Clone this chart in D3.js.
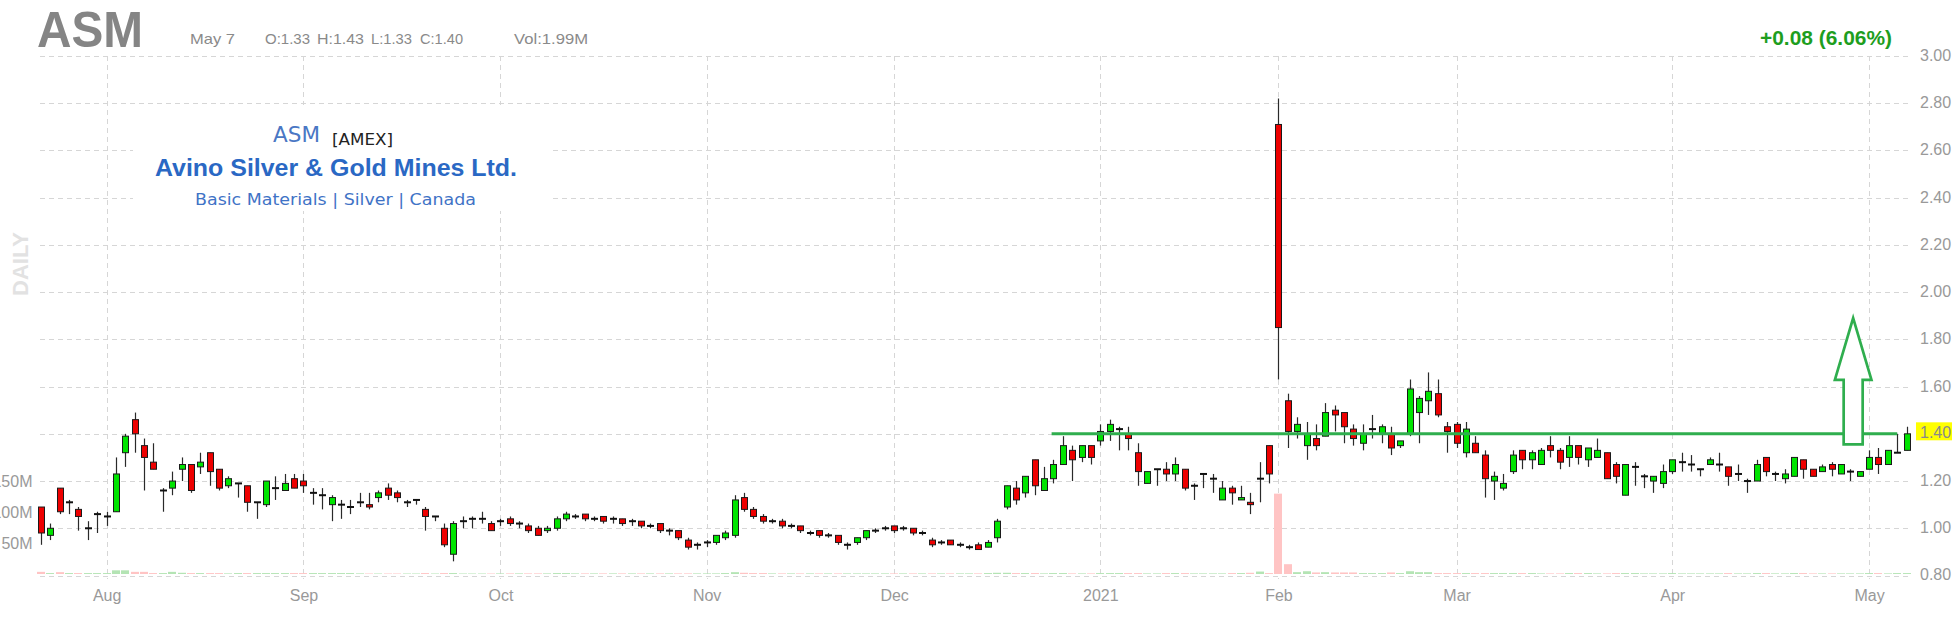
<!DOCTYPE html>
<html><head><meta charset="utf-8">
<script src="https://cdn.jsdelivr.net/npm/d3@7"></script>
<style>body{margin:0;background:#fff;overflow:hidden} svg{display:block}</style>
</head><body>
<svg id="c" width="1952" height="621"></svg>
<script>
// ---- DATA ----
const opens = [
1.09,0.97,1.17,1.11,1.08,1.00,1.06,1.05,1.07,1.32,
1.46,1.35,1.28,1.16,1.17,1.25,1.27,1.26,1.32,1.25,
1.18,1.19,1.18,1.11,1.10,1.17,1.16,1.21,1.20,1.15,
1.14,1.10,1.10,1.09,1.11,1.10,1.13,1.17,1.15,1.11,
1.12,1.08,1.05,1.00,0.89,1.03,1.04,1.04,1.02,1.03,
1.04,1.02,1.01,1.00,0.99,1.00,1.04,1.05,1.06,1.04,
1.05,1.04,1.04,1.03,1.03,1.01,1.02,0.99,0.99,0.95,
0.93,0.94,0.94,0.96,0.97,1.13,1.08,1.05,1.03,1.03,
1.01,1.01,0.98,0.99,0.97,0.97,0.93,0.94,0.96,0.99,
1.00,1.01,1.00,1.00,0.98,0.95,0.94,0.95,0.93,0.92,
0.93,0.92,0.96,1.09,1.17,1.15,1.29,1.16,1.21,1.27,
1.33,1.30,1.35,1.37,1.41,1.42,1.40,1.32,1.19,1.25,
1.25,1.23,1.25,1.18,1.23,1.21,1.12,1.17,1.12,1.11,
1.21,1.35,2.71,1.54,1.41,1.35,1.38,1.39,1.50,1.49,
1.42,1.36,1.42,1.40,1.40,1.35,1.40,1.49,1.54,1.57,
1.43,1.44,1.32,1.36,1.31,1.20,1.17,1.24,1.33,1.29,
1.27,1.35,1.33,1.30,1.35,1.29,1.30,1.32,1.27,1.14,
1.26,1.22,1.20,1.19,1.24,1.28,1.27,1.25,1.27,1.27,
1.26,1.23,1.20,1.20,1.30,1.23,1.21,1.22,1.29,1.25,
1.24,1.27,1.23,1.24,1.22,1.25,1.30,1.27,1.32,1.33];
const highs = [
1.09,1.02,1.17,1.12,1.09,1.03,1.07,1.07,1.30,1.40,
1.49,1.38,1.36,1.17,1.24,1.30,1.27,1.32,1.32,1.25,
1.22,1.19,1.18,1.11,1.20,1.22,1.23,1.23,1.23,1.17,
1.17,1.14,1.12,1.12,1.15,1.15,1.16,1.19,1.16,1.12,
1.12,1.09,1.05,1.02,1.03,1.05,1.05,1.07,1.03,1.04,
1.05,1.03,1.02,1.01,1.01,1.05,1.07,1.06,1.06,1.05,
1.05,1.05,1.04,1.04,1.03,1.02,1.02,1.00,0.99,0.96,
0.94,0.95,0.97,0.99,1.14,1.15,1.09,1.06,1.04,1.04,
1.02,1.01,0.99,0.99,0.98,0.97,0.94,0.96,0.99,1.00,
1.01,1.01,1.01,1.00,0.99,0.96,0.95,0.95,0.94,0.93,
0.94,0.95,1.04,1.18,1.20,1.22,1.29,1.26,1.29,1.39,
1.35,1.35,1.35,1.44,1.46,1.43,1.43,1.36,1.24,1.25,
1.28,1.30,1.25,1.19,1.23,1.23,1.20,1.18,1.18,1.15,
1.28,1.35,2.82,1.57,1.47,1.45,1.44,1.53,1.52,1.49,
1.44,1.44,1.48,1.44,1.43,1.37,1.63,1.56,1.66,1.63,
1.45,1.45,1.45,1.39,1.33,1.24,1.23,1.33,1.33,1.33,
1.34,1.39,1.34,1.39,1.35,1.34,1.38,1.32,1.28,1.27,
1.28,1.23,1.22,1.27,1.29,1.32,1.31,1.25,1.30,1.32,
1.26,1.27,1.21,1.29,1.30,1.24,1.25,1.30,1.29,1.25,
1.27,1.28,1.27,1.25,1.24,1.33,1.34,1.33,1.40,1.43];
const lows = [
0.93,0.95,1.06,1.06,0.99,0.95,0.98,1.01,1.07,1.26,
1.32,1.16,1.25,1.07,1.14,1.20,1.15,1.23,1.18,1.16,
1.17,1.13,1.07,1.04,1.09,1.12,1.16,1.17,1.15,1.10,
1.08,1.03,1.04,1.06,1.09,1.08,1.11,1.12,1.11,1.09,
1.10,0.99,1.03,0.92,0.86,1.00,1.00,1.02,0.99,1.01,
1.01,1.00,0.98,0.97,0.98,0.99,1.03,1.04,1.03,1.03,
1.02,1.02,1.01,1.01,1.00,1.00,0.98,0.97,0.95,0.91,
0.91,0.92,0.93,0.95,0.96,1.07,1.04,1.02,1.02,1.00,
1.00,0.98,0.97,0.96,0.96,0.93,0.91,0.93,0.95,0.98,
0.99,0.98,0.99,0.97,0.97,0.92,0.93,0.93,0.92,0.91,
0.91,0.92,0.94,1.08,1.10,1.13,1.14,1.16,1.19,1.27,
1.20,1.28,1.27,1.35,1.37,1.33,1.33,1.18,1.19,1.18,
1.20,1.20,1.16,1.12,1.17,1.15,1.12,1.10,1.12,1.06,
1.11,1.19,1.63,1.34,1.38,1.29,1.33,1.39,1.41,1.36,
1.35,1.33,1.38,1.36,1.31,1.34,1.39,1.36,1.48,1.47,
1.32,1.34,1.30,1.32,1.13,1.12,1.16,1.23,1.25,1.25,
1.27,1.30,1.25,1.26,1.27,1.26,1.30,1.21,1.19,1.14,
1.18,1.17,1.15,1.17,1.23,1.24,1.24,1.22,1.27,1.24,
1.18,1.20,1.15,1.20,1.22,1.20,1.19,1.22,1.21,1.22,
1.24,1.22,1.23,1.20,1.22,1.25,1.23,1.27,1.32,1.33];
const closes = [
0.98,1.00,1.07,1.11,1.05,1.00,1.06,1.05,1.23,1.39,
1.40,1.30,1.25,1.16,1.20,1.27,1.16,1.28,1.24,1.17,
1.21,1.19,1.11,1.11,1.20,1.17,1.19,1.17,1.18,1.15,
1.14,1.13,1.10,1.09,1.11,1.09,1.15,1.14,1.13,1.11,
1.12,1.05,1.05,0.93,1.02,1.03,1.04,1.04,0.99,1.03,
1.02,1.02,0.99,0.97,1.00,1.04,1.06,1.05,1.04,1.04,
1.03,1.04,1.02,1.03,1.01,1.01,0.99,0.99,0.96,0.92,
0.93,0.94,0.97,0.98,1.12,1.08,1.05,1.03,1.03,1.01,
1.01,0.99,0.98,0.97,0.97,0.94,0.93,0.96,0.99,0.99,
1.00,0.99,1.00,0.98,0.98,0.93,0.94,0.93,0.93,0.92,
0.91,0.94,1.03,1.18,1.12,1.22,1.18,1.21,1.27,1.35,
1.29,1.35,1.30,1.41,1.44,1.42,1.38,1.24,1.24,1.25,
1.23,1.27,1.17,1.18,1.23,1.21,1.17,1.15,1.13,1.10,
1.21,1.23,1.85,1.41,1.44,1.40,1.35,1.49,1.48,1.43,
1.38,1.40,1.42,1.43,1.34,1.37,1.59,1.55,1.58,1.48,
1.41,1.36,1.42,1.32,1.21,1.22,1.19,1.31,1.29,1.32,
1.33,1.33,1.28,1.35,1.30,1.34,1.33,1.21,1.22,1.27,
1.26,1.22,1.22,1.24,1.29,1.28,1.27,1.25,1.29,1.27,
1.22,1.23,1.20,1.27,1.24,1.23,1.23,1.30,1.25,1.22,
1.26,1.25,1.27,1.24,1.24,1.30,1.27,1.33,1.32,1.40];
// volume in millions of shares
const volumes = [
3.5,1.5,3,1.5,1.5,1.5,1.5,
1.5,6,6,3.5,3.5,1.5,1.5,3.5,2,1.5,1.5,1.5,1.5,1,1.5,1.5,1.5,1.5,1.5,1.5,1.5,
1.5,1.5,1.5,1.5,1.5,1.5,1,0.8,0.8,0.8,0.8,0.8,0.8,1.5,0.8,1.5,1.5,0.8,0.8,0.8,0.8,
1,1,1,1,1,1,1.5,1.5,1,1,1,1,1,1,1,1,1,1,1,1,1,1,
1,1,1.5,3,2,1.5,1.5,1,1,1,1,1,1,1,1,1,1,1,1,1,
1,1,1,1,1,1,1,1,1,1,1.5,2,2,1.5,1.5,1.5,1,1.5,1.5,1,1,1,
1.5,1.5,1.5,1.5,1.5,1,1,1.5,1.5,1.5,1,1,1,1,1.5,1.5,2,4,1.5,
131,16,3,4.5,2.5,3,2.5,2.5,2.5,1.5,1.5,1.5,2.5,1.5,4.5,3,3,1.5,1.5,
1.5,1.5,1.5,1.5,1.5,1.5,1.5,1.5,1.5,1,1,1,1.5,1.5,1.5,1,1,1.5,1.5,1.5,1,1,1,
1.5,1,1,1,1,1,1.5,1,1,1.5,1.5,1,1,1.5,1.5,1,1,1,1,1,1,
1.5,1.5,1,1.5,1.5];
const monthLabels = ["Aug","Sep","Oct","Nov","Dec","2021","Feb","Mar","Apr","May"];
const monthIndex  = [7,28,49,71,91,113,132,151,174,195];   // trading-day index of first session
const priceTicks  = [0.8,1.0,1.2,1.4,1.6,1.8,2.0,2.2,2.4,2.6,2.8,3.0];
const volumeTicks = [50,100,150];
const lastPrice = 1.40;
const resistance = {from: 107.8, to: 198, price: 1.40};
const arrowAnno = {index: 193.3, from: 1.355, to: 1.89};

// ---- CHART ----
const FONT = "'Liberation Sans', Arial, Helvetica, sans-serif";
const svg = d3.select("#c");
svg.append("rect").attr("width",1952).attr("height",621).attr("fill","#fff");

const N = opens.length;
const x  = d3.scaleLinear().domain([0, N-1]).range([41, 1906.6]);
const y  = d3.scaleLinear().domain([0.8, 3.0]).range([575.5, 56]);
const vy = d3.scaleLinear().domain([0, 150]).range([574, 482]);
const px = v => Math.round(v) + 0.5;

// gridlines
const grid = svg.append("g").attr("stroke","#d6d6d6").attr("stroke-width",1).attr("stroke-dasharray","5,4");
grid.selectAll("line.h").data(priceTicks).join("line").attr("class","h")
  .attr("x1",40).attr("x2",1910).attr("y1",d=>px(y(d))).attr("y2",d=>px(y(d)));
grid.selectAll("line.v").data(monthIndex).join("line").attr("class","v")
  .attr("x1",d=>px(x(d))).attr("x2",d=>px(x(d))).attr("y1",56).attr("y2",579);

// company info box
const box = svg.append("g");
box.append("rect").attr("x",133).attr("y",105).attr("width",419).attr("height",106).attr("fill","#fff");
box.append("text").attr("x",273).attr("y",142).attr("font-family","'DejaVu Sans', Verdana, sans-serif")
  .attr("font-size",21).attr("fill","#4a77c4").attr("textLength",47).attr("lengthAdjust","spacingAndGlyphs").text("ASM");
box.append("text").attr("x",332).attr("y",145).attr("font-family","'DejaVu Sans', Verdana, sans-serif")
  .attr("font-size",16).attr("fill","#222").attr("textLength",61).attr("lengthAdjust","spacingAndGlyphs").text("[AMEX]");
box.append("text").attr("x",155).attr("y",176).attr("font-family",FONT).attr("font-weight","bold")
  .attr("font-size",24).attr("fill","#2a68c4").attr("textLength",362).attr("lengthAdjust","spacingAndGlyphs").text("Avino Silver & Gold Mines Ltd.");
box.append("text").attr("x",195).attr("y",205).attr("font-family","'DejaVu Sans', Verdana, sans-serif")
  .attr("font-size",16).attr("fill","#3f73c6").attr("textLength",281).attr("lengthAdjust","spacingAndGlyphs").text("Basic Materials | Silver | Canada");

// volume bars
const idx = d3.range(N);
const up = i => closes[i] >= opens[i];
svg.append("g").selectAll("rect").data(idx).join("rect")
  .attr("x",i=>Math.round(x(i))-4).attr("width",8)
  .attr("y",i=>vy(volumes[i])).attr("height",i=>vy(0)-vy(volumes[i]))
  .attr("fill",i=>up(i) ? "#b4e4b4" : "#ffc4c4");

// candles
const cg = svg.append("g");
cg.selectAll("line.wick").data(idx).join("line").attr("class","wick")
  .attr("x1",i=>px(x(i))).attr("x2",i=>px(x(i)))
  .attr("y1",i=>y(highs[i])).attr("y2",i=>y(lows[i]))
  .attr("stroke","#2a2a2a").attr("stroke-width",1.2);
const isDoji = i => Math.abs(y(opens[i]) - y(closes[i])) < 1.5;
cg.selectAll("rect.body").data(idx.filter(i=>!isDoji(i))).join("rect").attr("class","body")
  .attr("x",i=>Math.round(x(i))-3+0.5).attr("width",6)
  .attr("y",i=>y(Math.max(opens[i],closes[i])))
  .attr("height",i=>Math.abs(y(opens[i])-y(closes[i])))
  .attr("fill",i=>up(i) ? "#00e400" : "#ee0000")
  .attr("stroke","#1a1a1a").attr("stroke-width",1);
cg.selectAll("line.doji").data(idx.filter(isDoji)).join("line").attr("class","doji")
  .attr("x1",i=>Math.round(x(i))-3).attr("x2",i=>Math.round(x(i))+4)
  .attr("y1",i=>y(closes[i])).attr("y2",i=>y(closes[i]))
  .attr("stroke","#111").attr("stroke-width",2);

// resistance line
svg.append("line").attr("x1",x(resistance.from)).attr("x2",x(resistance.to))
  .attr("y1",y(resistance.price)).attr("y2",y(resistance.price))
  .attr("stroke","#2fae4e").attr("stroke-width",3);

// up arrow annotation
{
  const cx = x(arrowAnno.index), yb = y(arrowAnno.from), yt = y(arrowAnno.to);
  const sw = 9.5, hw = 18.3, hl = 61.7;
  const pts = [[cx,yt],[cx+hw,yt+hl],[cx+sw,yt+hl],[cx+sw,yb],[cx-sw,yb],[cx-sw,yt+hl],[cx-hw,yt+hl]];
  svg.append("polygon").attr("points",pts.map(p=>p.join(",")).join(" "))
    .attr("fill","#fff").attr("stroke","#2fae4e").attr("stroke-width",2.7).attr("stroke-linejoin","miter");
}

// price axis (right)
const yAxis = d3.axisRight(y).tickValues(priceTicks.filter(d=>d!==lastPrice))
  .tickFormat(d3.format(".2f")).tickSize(0).tickPadding(9);
const ya = svg.append("g").attr("transform","translate(1911,0)").call(yAxis);
ya.select(".domain").remove();
ya.selectAll("text").attr("font-family",FONT).attr("font-size",16).attr("fill","#999").attr("dy","0.28em");

// last price highlight
svg.append("rect").attr("x",1916).attr("y",y(lastPrice)-11.5).attr("width",36).attr("height",18).attr("fill","#ffff00");
svg.append("text").attr("x",1920).attr("y",y(lastPrice)).attr("dy","0.28em").attr("font-family",FONT)
  .attr("font-size",16).attr("fill","#8a8a8a").text(d3.format(".2f")(lastPrice));

// time axis
const xAxis = d3.axisBottom(x).tickValues(monthIndex).tickFormat((d,i)=>monthLabels[i]).tickSize(0).tickPadding(9.6);
const xa = svg.append("g").attr("transform","translate(0,580)").call(xAxis);
xa.select(".domain").remove();
xa.selectAll("text").attr("font-family",FONT).attr("font-size",16).attr("fill","#999");

// volume axis (left) - labels run off the left edge as in the original
const vAxis = d3.axisLeft(vy).tickValues(volumeTicks).tickFormat(d=>d+"M").tickSize(0).tickPadding(0);
const va = svg.append("g").attr("transform","translate(32.5,0)").call(vAxis);
va.select(".domain").remove();
va.selectAll("text").attr("font-family",FONT).attr("font-size",16).attr("fill","#999").attr("dy","0.3em");

// DAILY
svg.append("text").attr("transform","translate(27.5,264) rotate(-90)").attr("text-anchor","middle")
  .attr("font-family",FONT).attr("font-weight","bold").attr("font-size",22).attr("fill","#e2e2e2").text("DAILY");

// header
svg.append("text").attr("x",37).attr("y",47).attr("font-family",FONT).attr("font-weight","bold")
  .attr("font-size",50).attr("fill","#858585").attr("textLength",106).attr("lengthAdjust","spacingAndGlyphs").text("ASM");
const hdr = [["May 7",190,45],["O:1.33",265,45],["H:1.43",317,47],["L:1.33",371,41],["C:1.40",420,43],["Vol:1.99M",514,74]];
svg.append("g").selectAll("text").data(hdr).join("text")
  .attr("x",d=>d[1]).attr("y",44).attr("textLength",d=>d[2]).attr("lengthAdjust","spacingAndGlyphs")
  .attr("font-family",FONT).attr("font-size",15).attr("fill","#8a8a8a").text(d=>d[0]);
svg.append("text").attr("x",1760).attr("y",44.5).attr("font-family",FONT).attr("font-weight","bold")
  .attr("font-size",20).attr("fill","#1e9e1e").attr("textLength",132).attr("lengthAdjust","spacingAndGlyphs").text("+0.08 (6.06%)");
</script>
</body></html>
